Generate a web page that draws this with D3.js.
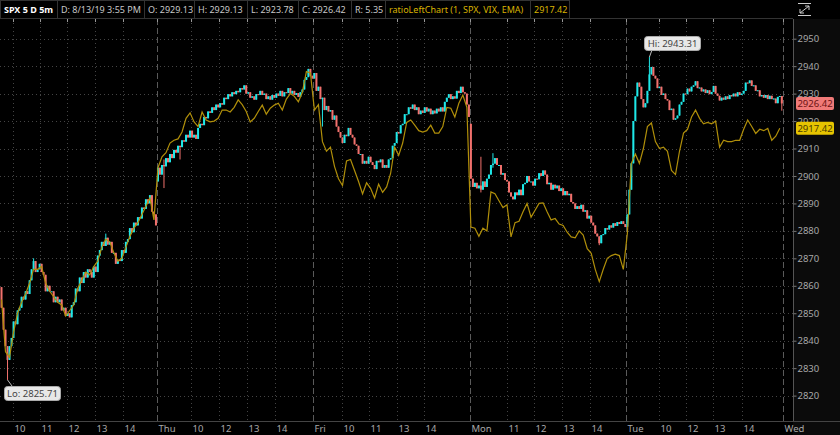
<!DOCTYPE html>
<html lang="en">
<head>
<meta charset="UTF-8">
<title>SPX 5 D 5m</title>
<style>
  body { margin: 0; padding: 0; background: #000; }
  svg { display: block; font-family: 'Noto Sans', 'Open Sans', sans-serif; }
</style>
</head>
<body>
<div id="chart"></div>
<script src="https://d3js.org/d3.v7.min.js"></script>
<script>
// closes of the 5 minute bars, one array per session
const wedCloses = [2852, 2844, 2838, 2833, 2838, 2841, 2847, 2846, 2851, 2852, 2856, 2855, 2858, 2857, 2862, 2866, 2869, 2865, 2866, 2868,
  2865, 2864, 2858, 2860, 2858, 2858, 2854, 2856, 2854, 2855, 2851, 2852, 2849, 2850, 2848.5, 2853, 2854, 2859, 2858, 2863,
  2861, 2865, 2863, 2866, 2865, 2863, 2867, 2865, 2871, 2873, 2876, 2874.5, 2877.5, 2875, 2876, 2872, 2872, 2868, 2869.5, 2869,
  2873, 2872, 2876, 2877, 2881, 2879.5, 2883, 2882, 2885, 2884.5, 2888.5, 2888, 2891.5, 2890, 2893, 2887, 2886, 2882];
const thuCloses = [2903, 2900.5, 2904, 2903.5, 2906.5, 2905, 2908, 2906.5, 2909.5, 2908.5, 2911, 2910.5, 2913, 2912.5, 2915, 2914, 2916.5, 2914, 2915, 2913.5,
  2917.5, 2919, 2918.5, 2921.5, 2921, 2923.5, 2923, 2925, 2924, 2926, 2925, 2926.5, 2926, 2928.5, 2928, 2929.8, 2929, 2930.5, 2929.8, 2931,
  2930.5, 2932, 2931.5, 2933, 2930, 2930.5, 2928.5, 2929, 2927.8, 2929.8, 2929.5, 2931, 2929.5, 2930, 2928, 2929, 2927.8, 2929.5, 2928.5, 2930,
  2929.2, 2931, 2929, 2930.5, 2930.2, 2932, 2930, 2931, 2929.5, 2930.2, 2928.8, 2930.5, 2931.5, 2935, 2936, 2939, 2936.5, 2935.5];
const friCloses = [2937.5, 2931, 2932.5, 2928, 2928.5, 2924, 2925.5, 2923.5, 2924, 2920.5, 2922, 2918, 2916, 2914, 2912, 2915, 2914.5, 2917.5, 2915, 2914,
  2911.5, 2911, 2908, 2908, 2904.5, 2905.5, 2904.5, 2907, 2905, 2904, 2902.5, 2905.5, 2905, 2906, 2903, 2904, 2903, 2906, 2906.5, 2911,
  2912, 2916, 2915.5, 2918.5, 2919, 2922.5, 2922.5, 2925, 2924.5, 2926, 2924, 2925, 2922.5, 2923.8, 2923, 2925, 2923.5, 2924.5, 2922.5, 2923.8,
  2922.8, 2924.5, 2923.5, 2925, 2923.5, 2927, 2928.5, 2929.8, 2928, 2929, 2928.2, 2931, 2930.2, 2932.5, 2930.5, 2930, 2926, 2921.5];
const monCloses = [2899, 2896, 2897.5, 2895.5, 2896.5, 2895, 2898, 2896, 2899, 2900.5, 2904, 2904.5, 2906.5, 2904, 2904, 2900.5, 2901, 2898.5, 2898, 2894,
  2892.5, 2891.5, 2894, 2893, 2895, 2893, 2897, 2897.5, 2900, 2898, 2898, 2896.5, 2899, 2898.8, 2901, 2900, 2902, 2900.5, 2897, 2897.5,
  2895, 2896.8, 2895.5, 2896.5, 2894.5, 2895.5, 2893, 2894.5, 2893, 2893.5, 2890.5, 2890, 2888, 2889, 2888, 2889.5, 2887, 2887.5, 2884.5, 2885.5,
  2883, 2882, 2879, 2878, 2875.5, 2878.5, 2878.8, 2881, 2880.5, 2882, 2881.2, 2882.8, 2881.8, 2883.2, 2882.5, 2883.5, 2882.5, 2881.4];
const tueCloses = [2886, 2895, 2904.6, 2920, 2929, 2934, 2932.5, 2928, 2925, 2926.5, 2931, 2937, 2939.7, 2936.5, 2935.5, 2932, 2932.5, 2929.5, 2930, 2928,
  2927.5, 2924, 2924.5, 2920.5, 2921, 2922, 2926, 2927, 2930, 2929.8, 2931.8, 2930.8, 2932.5, 2933, 2934.5, 2932, 2932.2, 2930.8, 2931.5, 2930.2,
  2931.2, 2929.8, 2930.6, 2932.8, 2930, 2929.2, 2927.5, 2928.5, 2927.8, 2929, 2928, 2929.5, 2929, 2930, 2929, 2930.5, 2929.5, 2930, 2931, 2934,
  2933.8, 2934.8, 2932.8, 2933, 2931, 2931.2, 2929, 2929.5, 2928.5, 2929.5, 2928, 2929.2, 2928, 2928.2, 2926.5, 2928.8, 2929.13, 2926.42];
const dayOpens = [2859.5, 2898, 2935.5, 2919, 2881.5];

// bars with wicks that reach past the body: [bar, low, high]
const wicks = [[3, 2825.71, 2838], [81, 2895.6, 2906], [89, 2906, 2909.5], [245, 2903, 2908.3], [298, 2874.8, 2878],
  [323, 2934, 2943.31], [389, 2923.78, 2929.13], [160, 2918, 2925], [16, 2866, 2870], [52, 2875, 2879], [239, 2894, 2907]];

// ratioLeftChart (1, SPX, VIX, EMA), one value every second bar
const wedRatio = [2855, 2836, 2834, 2843, 2850, 2854, 2857, 2861, 2866, 2866, 2867, 2861, 2858, 2856, 2854, 2853, 2849, 2851, 2853, 2859,
  2862, 2865, 2864, 2867, 2869, 2874, 2877, 2876, 2872, 2869, 2870, 2874, 2878, 2881, 2883, 2886, 2889, 2892, 2884];
const thuRatio = [2903, 2907, 2908.5, 2912, 2913, 2913.5, 2916, 2921, 2923, 2919.7, 2918, 2923.3, 2920.4, 2919.7, 2920, 2921, 2924, 2924, 2923.3, 2925,
  2927.7, 2926, 2923.5, 2919.7, 2921, 2923.5, 2925.8, 2922.5, 2924.7, 2925.8, 2926.5, 2924, 2928, 2930, 2929, 2927, 2930.5, 2938, 2937.5];
const friRatio = [2924, 2926, 2912.5, 2909, 2910.5, 2903.5, 2899, 2896.5, 2905.5, 2906, 2902, 2898, 2893.5, 2897.5, 2895.5, 2892, 2897, 2894, 2896, 2901,
  2910.5, 2907.5, 2912, 2919.5, 2920.4, 2918.5, 2916.5, 2916, 2916.5, 2918.5, 2915.6, 2915.6, 2918, 2925, 2924.7, 2921.5, 2926.5, 2929.5, 2925];
const monRatio = [2881.4, 2881, 2878, 2881, 2880, 2894.2, 2893.5, 2891, 2888.5, 2889.5, 2877.8, 2883, 2883.5, 2887, 2890, 2885, 2887.5, 2890, 2890.2, 2887,
  2884, 2884.5, 2882.5, 2882, 2879.5, 2877.8, 2877.5, 2880, 2878.5, 2873.5, 2871.8, 2866, 2861.5, 2866, 2870, 2871, 2871.5, 2871, 2866];
const tueRatio = [2879, 2904.6, 2908, 2904.6, 2910, 2918, 2919.3, 2912.5, 2910, 2910.5, 2909, 2902, 2900.5, 2909, 2915.6, 2917, 2921.5, 2924, 2921, 2919,
  2919.5, 2919, 2920, 2910.5, 2913, 2912.5, 2912.5, 2913, 2913, 2917, 2920.4, 2918, 2915.5, 2917, 2916.5, 2917.3, 2913, 2914.5, 2917.42];

const priceTicks = [2820, 2830, 2840, 2850, 2860, 2870, 2880, 2890, 2900, 2910, 2920, 2930, 2940, 2950];
// time axis: bar position and label, day breaks are the named ones
const timeTicks = [[6.1, "10"], [19.8, "11"], [33.3, "12"], [47.1, "13"], [61.2, "14"],
  [78, "Thu"], [95, "10"], [109.1, "12"], [123, "13"], [137, "14"],
  [156, "Fri"], [170.1, "10"], [183.8, "11"], [197.5, "13"], [211.1, "14"],
  [234, "Mon"], [252.6, "11"], [265.8, "12"], [279.8, "13"], [293.9, "14"],
  [312, "Tue"], [328.1, "10"], [341.6, "12"], [355.3, "13"], [369.5, "14"],
  [390, "Wed"]];
const dayNames = ["Thu", "Fri", "Mon", "Tue", "Wed"];

const header = [
  ["SPX 5 D 5m", 57, "#fff", true],
  ["D: 8/13/19 3:55 PM", 144, "#c8c8c8"],
  ["O: 2929.13", 194, "#c8c8c8"],
  ["H: 2929.13", 247, "#c8c8c8"],
  ["L: 2923.78", 298, "#c8c8c8"],
  ["C: 2926.42", 351, "#c8c8c8"],
  ["R: 5.35", 385, "#c8c8c8"],
  ["ratioLeftChart (1, SPX, VIX, EMA)", 530, "#d9b300"],
  ["2917.42", 569, "#d9b300"]
];

const width = 840, height = 435;
const plotTop = 19, plotBottom = 421, plotRight = 793;

const closes = [wedCloses, thuCloses, friCloses, monCloses, tueCloses];
const ratios = [wedRatio, thuRatio, friRatio, monRatio, tueRatio];

const bars = [];
closes.forEach(function (day, d) {
  day.forEach(function (c, i) {
    const o = i === 0 ? dayOpens[d] : day[i - 1];
    bars.push({i: d * 78 + i, open: o, close: c, high: Math.max(o, c), low: Math.min(o, c)});
  });
});
wicks.forEach(function (w) {
  bars[w[0]].low = Math.min(bars[w[0]].low, w[1]);
  bars[w[0]].high = Math.max(bars[w[0]].high, w[2]);
});

const ratioPts = [];
ratios.forEach(function (day, d) {
  day.forEach(function (v, k) {
    ratioPts.push({i: d * 78 + k * 2, v: v});
  });
});

const x = d3.scaleLinear().domain([0, 390]).range([0.5, 782.8]);
const y = d3.scaleLinear().domain([2820, 2950]).range([395.6, 38.7]);

const svg = d3.select("#chart").append("svg")
  .attr("width", width).attr("height", height);

svg.append("rect").attr("width", width).attr("height", height).attr("fill", "#000");
svg.append("rect").attr("x", plotRight).attr("y", plotTop).attr("width", width - plotRight)
  .attr("height", height - plotTop).attr("fill", "#0b0b0b");

// grid
const grid = svg.append("g");
grid.selectAll("line.h").data(priceTicks).enter().append("line")
  .attr("x1", 0).attr("x2", plotRight)
  .attr("y1", function (d) { return Math.round(y(d)) + 0.5; })
  .attr("y2", function (d) { return Math.round(y(d)) + 0.5; })
  .attr("stroke", "#444").attr("stroke-dasharray", "1,3");
grid.selectAll("line.v").data(timeTicks).enter().append("line")
  .attr("x1", function (d) { return Math.round(x(d[0])) + 0.5; })
  .attr("x2", function (d) { return Math.round(x(d[0])) + 0.5; })
  .attr("y1", plotTop).attr("y2", plotBottom)
  .attr("stroke", function (d) { return dayNames.includes(d[1]) ? "#5a5a5a" : "#444"; })
  .attr("stroke-dasharray", function (d) { return dayNames.includes(d[1]) ? "6,3" : "1,3"; });

// candles
const up = "#1ee8e8", down = "#f2716d";
const candles = svg.append("g");
candles.selectAll("line").data(bars).enter().append("line")
  .attr("x1", function (d) { return x(d.i + 0.5); })
  .attr("x2", function (d) { return x(d.i + 0.5); })
  .attr("y1", function (d) { return y(d.high); })
  .attr("y2", function (d) { return y(d.low); })
  .attr("stroke", function (d) { return d.close >= d.open ? up : down; })
  .attr("stroke-width", 1);
candles.selectAll("rect").data(bars).enter().append("rect")
  .attr("x", function (d) { return x(d.i + 0.5) - 1; })
  .attr("width", 2)
  .attr("y", function (d) { return y(Math.max(d.open, d.close)); })
  .attr("height", function (d) { return Math.max(1, Math.abs(y(d.open) - y(d.close))); })
  .attr("fill", function (d) { return d.close >= d.open ? up : down; });

// ratio line
svg.append("path").datum(ratioPts)
  .attr("fill", "none").attr("stroke", "#b08f0a").attr("stroke-width", 1.2)
  .attr("d", d3.line().x(function (d) { return x(d.i + 0.5); }).y(function (d) { return y(d.v); }));

// right price axis
svg.append("line").attr("x1", plotRight + 0.5).attr("x2", plotRight + 0.5)
  .attr("y1", plotTop).attr("y2", plotBottom).attr("stroke", "#555");
const yAxis = svg.append("g").attr("transform", "translate(" + (plotRight + 0.5) + ",0)")
  .call(d3.axisRight(y).tickValues(priceTicks).tickSize(3).tickFormat(d3.format("d")));
yAxis.select(".domain").remove();
yAxis.selectAll("line").attr("stroke", "#777");
yAxis.selectAll("text").attr("fill", "#a8a8a8").attr("font-size", 9.5).attr("x", 4)
  .attr("font-family", "'Noto Sans', sans-serif");

// bottom time axis
svg.append("line").attr("x1", 0).attr("x2", width).attr("y1", plotBottom + 0.5).attr("y2", plotBottom + 0.5)
  .attr("stroke", "#444");
svg.append("g").selectAll("text").data(timeTicks).enter().append("text")
  .attr("x", function (d) { return Math.round(x(d[0])) + 1.5; })
  .attr("y", 432)
  .attr("fill", "#a8a8a8").attr("font-size", 9.5)
  .text(function (d) { return d[1]; });

// last value tags
function tag(value, fill, textFill) {
  const g = svg.append("g").attr("transform", "translate(" + (plotRight + 3) + "," + y(value) + ")");
  g.append("rect").attr("x", 0).attr("y", -6.5).attr("width", 38).attr("height", 13).attr("rx", 2).attr("fill", fill);
  g.append("text").attr("x", 19).attr("y", 3.5).attr("text-anchor", "middle").attr("font-size", 9.5)
    .attr("fill", textFill).text(value.toFixed(2));
}
tag(2926.42, "#f07a78", "#6b1212");
tag(2917.42, "#e6c400", "#4a3c00");

// hi / lo bubbles
function bubble(bar, value, label, bx, by) {
  const g = svg.append("g");
  g.append("line").attr("x1", x(bar + 0.5)).attr("y1", y(value))
    .attr("x2", bx + 8).attr("y2", by < y(value) ? by + 14 : by)
    .attr("stroke", "#bbb");
  g.append("rect").attr("x", bx + 0.5).attr("y", by + 0.5).attr("width", 56).attr("height", 14).attr("rx", 3)
    .attr("fill", "#e8e8e8").attr("stroke", "#aaa");
  g.append("text").attr("x", bx + 28.5).attr("y", by + 11).attr("text-anchor", "middle")
    .attr("font-size", 9.5).attr("fill", "#444").text(label);
}
bubble(3, 2825.71, "Lo: 2825.71", 4, 386);
bubble(323, 2943.31, "Hi: 2943.31", 644, 36);

// header bar
svg.append("rect").attr("x", 0).attr("y", 0).attr("width", width).attr("height", plotTop).attr("fill", "#000");
let left = 0;
header.forEach(function (h) {
  svg.append("rect").attr("x", left + 0.5).attr("y", 0.5).attr("width", h[1] - left).attr("height", plotTop - 1)
    .attr("fill", "none").attr("stroke", "#333");
  svg.append("text").attr("x", left + 4).attr("y", 13).attr("font-size", 9)
    .attr("font-weight", h[3] ? "bold" : "normal").attr("fill", h[2]).text(h[0]);
  left = h[1];
});
svg.append("line").attr("x1", 0).attr("x2", plotRight).attr("y1", plotTop - 0.5).attr("y2", plotTop - 0.5).attr("stroke", "#333");
svg.selectAll("line.top").data(timeTicks).enter().append("line")
  .attr("x1", function (d) { return Math.round(x(d[0])) + 0.5; })
  .attr("x2", function (d) { return Math.round(x(d[0])) + 0.5; })
  .attr("y1", plotTop).attr("y2", plotTop + 3).attr("stroke", "#999");

// expand icon
const icon = svg.append("g").attr("transform", "translate(798,3)").attr("stroke", "#ccc").attr("fill", "none");
icon.append("line").attr("x1", 0).attr("x2", 13).attr("y1", 0.5).attr("y2", 0.5);
icon.append("line").attr("x1", 0).attr("x2", 13).attr("y1", 12.5).attr("y2", 12.5);
icon.append("line").attr("x1", 2).attr("x2", 11).attr("y1", 10).attr("y2", 3);
icon.append("path").attr("d", "M7,3 H11 V7");
icon.append("path").attr("d", "M2,6 V10 H6");
</script>
</body>
</html>
